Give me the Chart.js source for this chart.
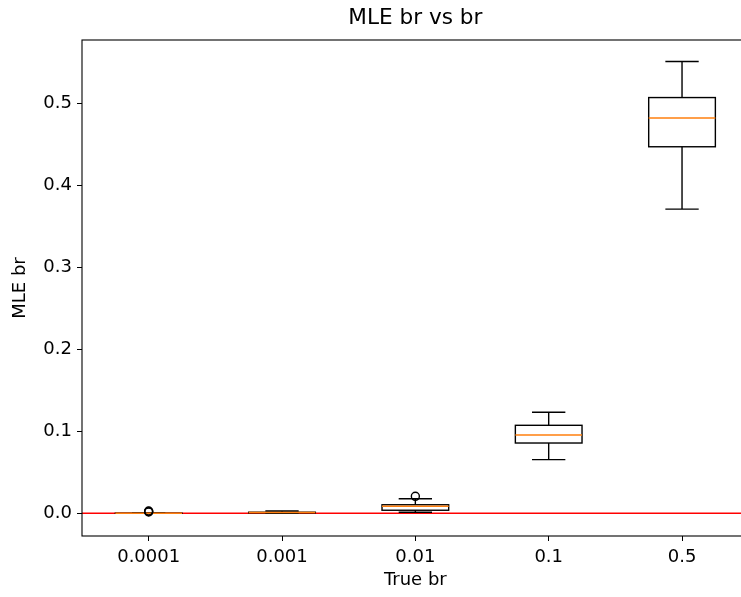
<!DOCTYPE html>
<html><head><meta charset="utf-8">
<script src="https://cdn.jsdelivr.net/npm/chart.js@4/dist/chart.umd.min.js"></script>
<style>
html,body{margin:0;padding:0;overflow:hidden;background:#fff;width:741px;height:597px}
#wrap{width:760px;height:597px}
</style></head>
<body><div id="wrap"><canvas id="c" width="760" height="597"></canvas></div>
<script>
const categories = ['0.0001', '0.001', '0.01', '0.1', '0.5'];
const whiskerLow  = [0.0,     0.0,    0.0012, 0.0654, 0.371];
const q1          = [0.00003, 0.0005, 0.0037, 0.0857, 0.447];
const median      = [0.0001,  0.0009, 0.0085, 0.0955, 0.482];
const q3          = [0.0002,  0.0013, 0.0104, 0.1073, 0.507];
const whiskerHigh = [0.0005,  0.0028, 0.0177, 0.1232, 0.551];
const outliers    = [[0.0016, 0.0022, 0.0028], [], [0.0207], [], []];
const yTicks = [0.0, 0.1, 0.2, 0.3, 0.4, 0.5];
const referenceLine = 0.0;
const yMin = -0.0277, yMax = 0.5772;

Chart.defaults.font.family = 'DejaVu Sans';
Chart.defaults.color = '#000';

const LW = 1.4;
const boxPlugin = {
  id: 'boxPlugin',
  beforeDatasetsDraw(chart) {
    const {ctx, chartArea, scales: {y}} = chart;
    const py = y.getPixelForValue(referenceLine);
    ctx.save();
    ctx.strokeStyle = '#ff0000';
    ctx.lineWidth = LW;
    ctx.beginPath();
    ctx.moveTo(chartArea.left, py);
    ctx.lineTo(chartArea.right, py);
    ctx.stroke();
    ctx.restore();
  },
  afterDatasetsDraw(chart) {
    const {ctx, scales: {y}} = chart;
    const meta = chart.getDatasetMeta(0);
    ctx.save();
    ctx.lineWidth = LW;
    meta.data.forEach((el, i) => {
      const x = el.x, w = el.width;
      const pTop = y.getPixelForValue(q3[i]);
      const pBot = y.getPixelForValue(q1[i]);
      const pHi = y.getPixelForValue(whiskerHigh[i]);
      const pLo = y.getPixelForValue(whiskerLow[i]);
      const pMed = y.getPixelForValue(median[i]);
      ctx.strokeStyle = '#000';
      ctx.beginPath();
      ctx.moveTo(x, pTop); ctx.lineTo(x, pHi);
      ctx.moveTo(x, pBot); ctx.lineTo(x, pLo);
      ctx.moveTo(x - w / 4, pHi); ctx.lineTo(x + w / 4, pHi);
      ctx.moveTo(x - w / 4, pLo); ctx.lineTo(x + w / 4, pLo);
      ctx.stroke();
      ctx.strokeRect(x - w / 2, pTop, w, pBot - pTop);
      ctx.strokeStyle = '#ff7f0e';
      ctx.beginPath();
      ctx.moveTo(x - w / 2, pMed); ctx.lineTo(x + w / 2, pMed);
      ctx.stroke();
      ctx.strokeStyle = '#000';
      outliers[i].forEach(v => {
        ctx.beginPath();
        ctx.arc(x, y.getPixelForValue(v), 4, 0, Math.PI * 2);
        ctx.stroke();
      });
    });
    ctx.restore();
  },
  afterDraw(chart) {
    const {ctx, chartArea: a} = chart;
    ctx.save();
    ctx.strokeStyle = '#000';
    ctx.lineWidth = 1.1;
    ctx.strokeRect(a.left, a.top, a.right - a.left, a.bottom - a.top);
    ctx.restore();
  }
};

new Chart(document.getElementById('c'), {
  type: 'bar',
  data: {
    labels: categories,
    datasets: [{
      data: categories.map((c, i) => [q1[i], q3[i]]),
      backgroundColor: 'rgba(0,0,0,0)',
      borderWidth: 0,
      barPercentage: 0.5,
      categoryPercentage: 1
    }]
  },
  options: {
    responsive: false,
    animation: false,
    devicePixelRatio: 1,
    layout: {padding: {left: 0, right: 11.3, top: 0, bottom: 0}},
    plugins: {
      legend: {display: false},
      tooltip: {enabled: false},
      title: {
        display: true, fullSize: false, text: 'MLE br vs br', color: '#000',
        font: {family: 'DejaVu Sans', size: 21.6, weight: 'normal'},
        padding: {top: 5, bottom: 9.08}
      }
    },
    scales: {
      x: {
        grid: {display: true, drawOnChartArea: false, drawTicks: true, tickLength: 5, tickColor: '#000', tickWidth: 1, offset: false},
        border: {display: false},
        ticks: {color: '#000', font: {family: 'DejaVu Sans', size: 18}, padding: 6, maxRotation: 0, autoSkip: false},
        title: {display: true, text: 'True br', color: '#000', font: {family: 'DejaVu Sans', size: 18}, padding: {top: 0, bottom: 6}},
        afterFit(s) { s.height = 61; }
      },
      y: {
        min: yMin, max: yMax,
        afterBuildTicks(s) { s.ticks = yTicks.map(v => ({value: v})); },
        grid: {display: true, drawOnChartArea: false, drawTicks: true, tickLength: 5, tickColor: '#000', tickWidth: 1},
        border: {display: false},
        ticks: {color: '#000', font: {family: 'DejaVu Sans', size: 18}, padding: 5, callback: v => Number(v).toFixed(1)},
        title: {display: true, text: 'MLE br', color: '#000', font: {family: 'DejaVu Sans', size: 18}, padding: {top: 10, bottom: 0}},
        afterFit(s) { s.width = 82; }
      }
    }
  },
  plugins: [boxPlugin]
});
</script>
</body></html>
